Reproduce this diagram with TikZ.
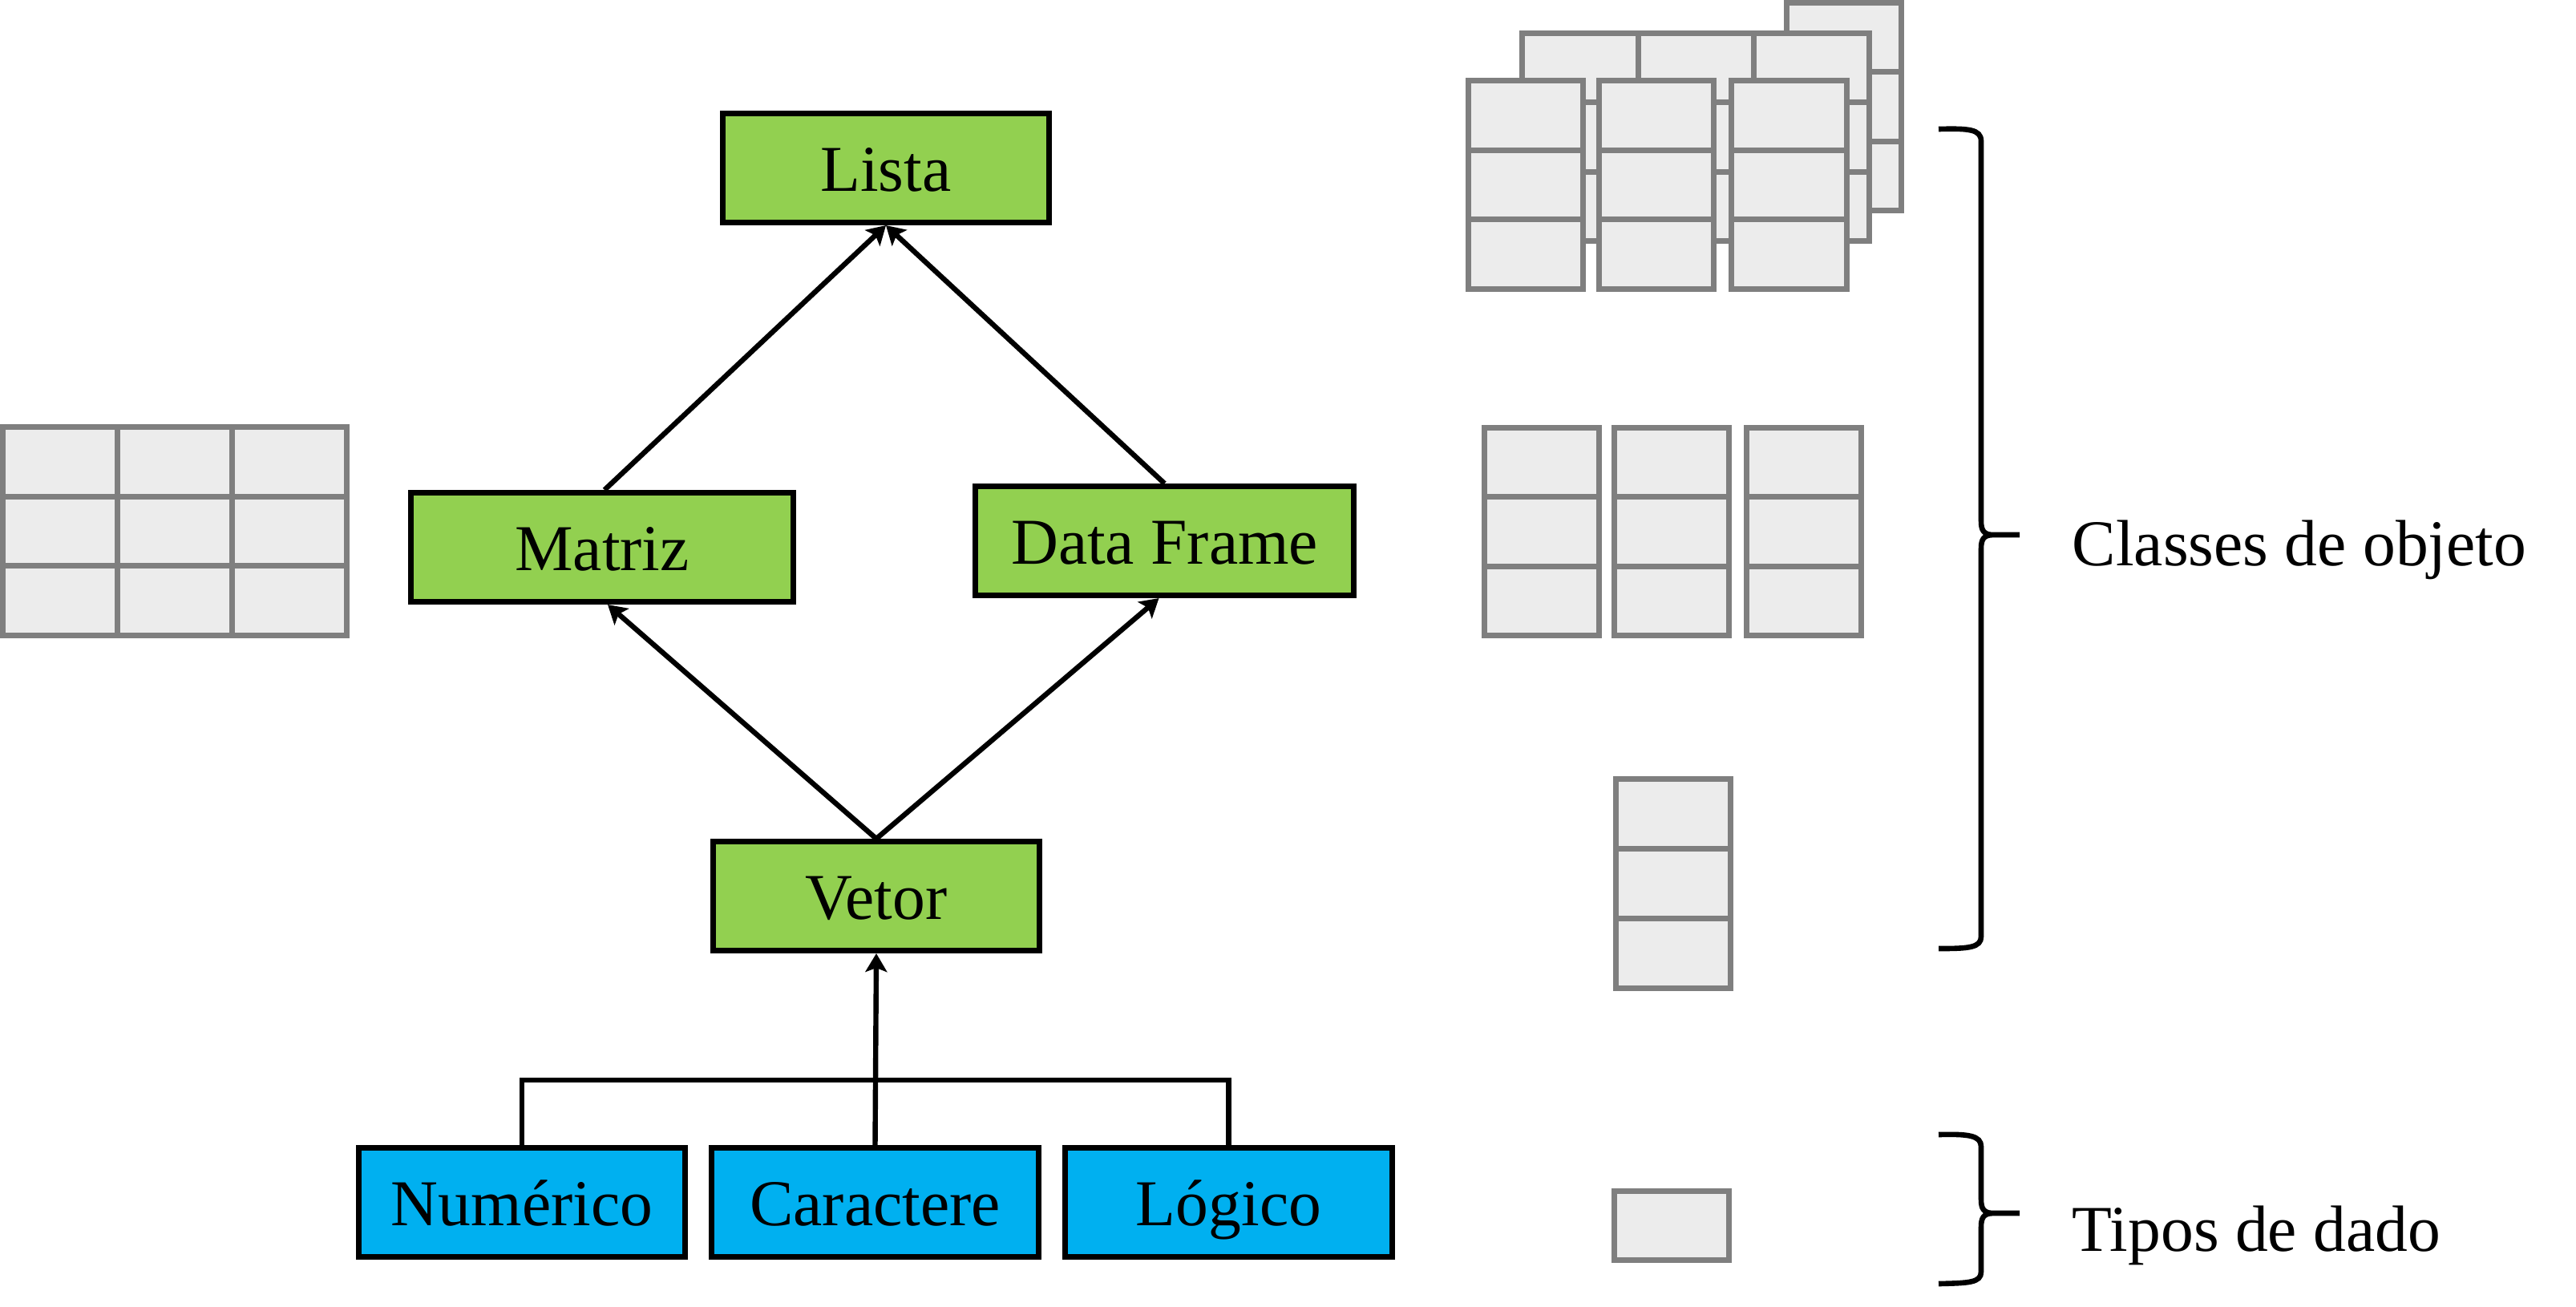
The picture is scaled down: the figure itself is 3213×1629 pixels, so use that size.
\documentclass[tikz,border=0pt]{standalone}
\usepackage{fontspec}
\setmainfont{Liberation Serif}
\usetikzlibrary{arrows.meta,calc}
\definecolor{boxgreen}{HTML}{92D050}
\definecolor{boxblue}{HTML}{00B0F0}
\definecolor{cellfill}{HTML}{ECECEC}
\definecolor{cellline}{HTML}{7F7F7F}
\begin{document}
\begin{tikzpicture}[x=0.01cm,y=-0.01cm,
  box/.style={draw=black, line width=0.07cm, inner sep=0pt, minimum height=1.36cm,
    font=\fontsize{23.2}{28}\selectfont, text height=0.65cm, text depth=0.065cm},
  gbox/.style={box, fill=boxgreen},
  bbox/.style={box, fill=boxblue},
  conn/.style={line width=0.064cm, draw=black},
  arr/.style={conn, -{Stealth[length=0.23cm,width=0.27cm,inset=0.05cm]}},
  gcell/.style={draw=cellline, fill=cellfill, line width=0.07cm},
  bracepath/.style={line width=0.066cm, draw=black},
  lbl/.style={font=\fontsize{23.2}{28}\selectfont, inner sep=0pt, anchor=base west}]
\useasboundingbox (0,0) rectangle (3213,1629);

% left grid (matrix)
\foreach \i in {0,1,2}{\foreach \j in {0,1,2}{
  \draw[gcell] ({3.5+143*\i},{532.5+86.5*\j}) rectangle ++(143,86.5);}}

% right: data frame columns
\foreach \cx in {1851.5,2013.5,2178.5}{\foreach \j in {0,1,2}{
  \draw[gcell] (\cx,{533.5+86.3*\j}) rectangle ++(143,86.3);}}

% right: vector
\foreach \j in {0,1,2}{\draw[gcell] (2015,{971+87.3*\j}) rectangle ++(143,87.3);}

% right: single value
\draw[gcell] (2013.5,1485) rectangle ++(143,86);

% right: list (stacked)
\foreach \j in {0,1,2}{\draw[gcell] (2228,{3.5+86.3*\j}) rectangle ++(143,86.3);}
\foreach \i in {0,1,2}{\foreach \j in {0,1,2}{
  \draw[gcell] ({1898.7+144.4*\i},{41.5+86.3*\j}) rectangle ++(144.4,86.3);}}
\foreach \cx in {1831.4,1994.6,2159.8}{\foreach \j in {0,1,2}{
  \draw[gcell] (\cx,{100.5+86.6*\j}) rectangle ++(143.3,86.6);}}

% nodes
\node[gbox, minimum width=4.07cm] (lista) at (1105,209.5) {Lista};
\node[gbox, minimum width=4.775cm] (matriz) at (751,682.5) {Matriz};
\node[gbox, minimum width=4.725cm] (df) at (1452.5,674.5) {Data Frame};
\node[gbox, minimum width=4.07cm] (vetor) at (1093,1117.5) {Vetor};
\node[bbox, minimum width=4.07cm] (num) at (651,1499.5) {Numérico};
\node[bbox, minimum width=4.07cm] (car) at (1091.5,1499.5) {Caractere};
\node[bbox, minimum width=4.07cm] (log) at (1532.5,1499.5) {Lógico};

% connectors
\draw[arr] (vetor.north) -- ($(matriz.south)+(7,0)$);
\draw[arr] (vetor.north) -- ($(df.south)+(-7,0)$);
\draw[arr] ($(matriz.north)+(3,0)$) -- (lista.south);
\draw[arr] (df.north) -- (lista.south);
\draw[arr] (car.north) -- (vetor.south);
\coordinate (bar) at (1091,1347);
\draw[conn] (num.north) |- (bar) -| (log.north);

% braces
\draw[bracepath] (2418,161) .. controls (2455,160) and (2471,161) .. (2471,176)
  -- (2471,650) .. controls (2471,661) and (2474,666) .. (2484,667) -- (2519,667);
\draw[bracepath] (2484,667) .. controls (2474,668) and (2471,673) .. (2471,684)
  -- (2471,1168) .. controls (2471,1182) and (2455,1183) .. (2418,1183);
\draw[bracepath] (2418,1415) .. controls (2455,1414) and (2471,1416) .. (2471,1430)
  -- (2471,1496) .. controls (2471,1507) and (2474,1512) .. (2484,1513) -- (2519,1513);
\draw[bracepath] (2484,1513) .. controls (2474,1514) and (2471,1519) .. (2471,1530)
  -- (2471,1586) .. controls (2471,1600) and (2455,1600) .. (2418,1601);

% labels
\node[lbl] (cls) at (2584,705) {Classes de objeto};
\node[lbl] (tip) at (2584,1560) {Tipos de dado};
\end{tikzpicture}
\end{document}
